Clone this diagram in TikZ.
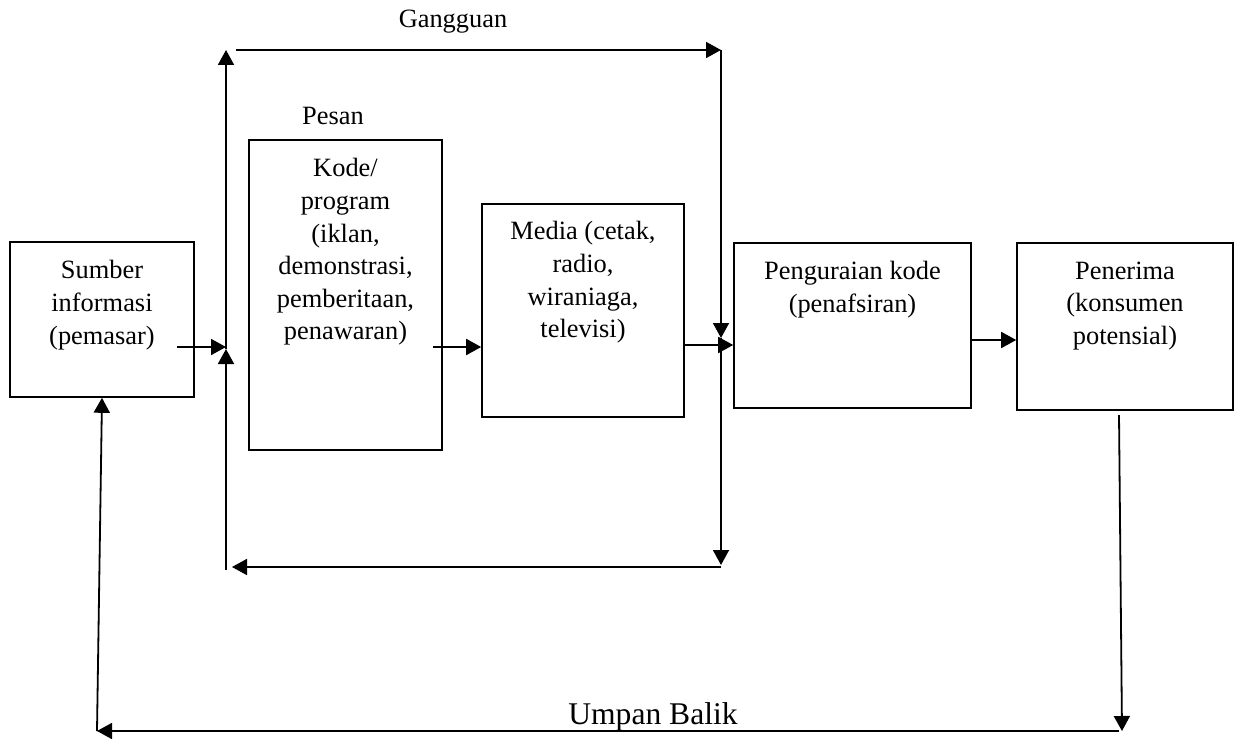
\documentclass[tikz,border=0pt]{standalone}
\usepackage{fontspec}
\setmainfont{Liberation Serif}
\usetikzlibrary{arrows.meta,positioning,fit}

\begin{document}
\begin{tikzpicture}[x=0.5pt,y=-0.5pt,font=\fontsize{13.2}{16.3}\selectfont,
    kotak/.style={draw,line width=0.8pt,inner sep=0pt},
    isi/.style={align=center,inner sep=0pt,anchor=north},
    panah/.style={line width=0.9pt,-{Triangle[length=7.5pt,width=8pt]}}]
  \useasboundingbox (0,0) rectangle (1235,738);
  \node[kotak,fit={(10,242) (194,397)}] (sumber) {};
  \node[kotak,fit={(249,140) (442,450)}] (kode) {};
  \node[kotak,fit={(482,204) (684,417)}] (media) {};
  \node[kotak,fit={(734,243) (971,408)}] (urai) {};
  \node[kotak,fit={(1017,243) (1233,410)}] (penerima) {};
  \node[isi] (sumbertxt) at ([yshift=-9.5pt]sumber.north) {Sumber\\ informasi\\ (pemasar)};
  \node[isi] (kodetxt) at ([yshift=-9.5pt]kode.north) {Kode/\\ program\\ (iklan,\\ demonstrasi,\\ pemberitaan,\\ penawaran)};
  \node[isi] (mediatxt) at ([yshift=-9pt]media.north) {Media (cetak,\\ radio,\\ wiraniaga,\\ televisi)};
  \node[isi] (uraitxt) at ([yshift=-9.5pt]urai.north) {Penguraian kode\\ (penafsiran)};
  \node[isi] (penerimatxt) at ([yshift=-9.5pt]penerima.north) {Penerima\\ (konsumen\\ potensial)};
  \node[anchor=base,inner sep=0pt] (gangguan) at (453,28) {Gangguan};
  \node[anchor=base,inner sep=0pt] (pesan) at (333,125) {Pesan};
  \node[anchor=base,inner sep=0pt,font=\fontsize{15.8}{19}\selectfont] (umpan) at (653,724) {Umpan Balik};
  % titik bantu
  \coordinate (kiriatas) at (226,50);
  \coordinate (kiri) at (226,347);
  \coordinate (kiriup) at (226,349);
  \coordinate (kiribawah) at (226,570);
  \coordinate (atas1) at (236,50);
  \coordinate (kananatas) at (721,50);
  \coordinate (kanan) at (721,345);
  \coordinate (kanandown) at (721,338);
  \coordinate (kananbawah) at (721,565);
  \coordinate (bawah1) at (721,567);
  \coordinate (bawah2) at (232,567);
  \coordinate (s1) at (177,347);
  \coordinate (k1) at (433,347);
  \coordinate (u1) at (971,340);
  \coordinate (p1) at (1119,415);
  \coordinate (p2) at (1122,731);
  \coordinate (ub1) at (1119,731);
  \coordinate (ub2) at (97,731);
  % panah
  \draw[panah] (s1) -- (kiri);
  \draw[panah] (kiribawah) -- (kiriup);
  \draw[panah] (kiriup) -- (kiriatas);
  \draw[panah] (atas1) -- (kananatas);
  \draw[panah] (kananatas) -- (kanandown);
  \draw[panah] (kanandown) -- (kananbawah);
  \draw[panah] (bawah1) -- (bawah2);
  \draw[panah] (k1) -- (media.west |- k1);
  \draw[panah] (media.east |- kanan) -- (urai.west |- kanan);
  \draw[panah] (u1) -- (penerima.west |- u1);
  \draw[panah] (p1) -- (p2);
  \draw[panah] (ub1) -- (ub2);
  \draw[panah] (ub2) -- (sumber.south);
\end{tikzpicture}
\end{document}
